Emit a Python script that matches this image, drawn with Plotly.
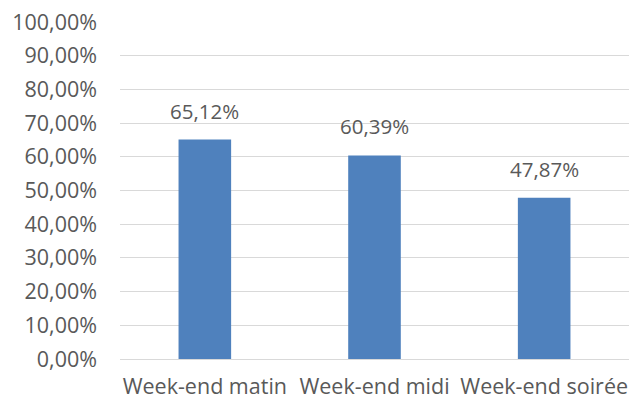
import plotly.graph_objects as go

categories = ["Week-end matin", "Week-end midi", "Week-end soirée"]
values = [0.6512, 0.6039, 0.4787]

FONT = "Open Sans"
TXT = "#595959"

fig = go.Figure()
fig.add_trace(go.Bar(
    x=categories, y=values,
    marker=dict(color="#4F81BD", line=dict(width=0)),
    width=0.31,
    hoverinfo="skip",
))

for c, v in zip(categories, values):
    fig.add_annotation(
        x=c, y=v, xref="x", yref="y",
        text=f"{v*100:.2f}%".replace(".", ","),
        showarrow=False, yanchor="bottom", yshift=13,
        font=dict(family=FONT, size=20.5, color=TXT),
    )

fig.update_layout(
    width=641, height=403,
    margin=dict(l=120, r=12, t=22, b=44, autoexpand=False),
    paper_bgcolor="white", plot_bgcolor="white",
    separators=", ",
    showlegend=False,
    font=dict(family=FONT, size=20, color=TXT),
    xaxis=dict(
        showgrid=False, showline=False, zeroline=False, automargin=False,
        ticks="", ticklabelstandoff=12,
        tickfont=dict(family=FONT, size=21.5, color=TXT),
    ),
    yaxis=dict(
        range=[0, 1], dtick=0.1, tick0=0, automargin=False,
        tickformat=".2%",
        showgrid=True, gridcolor="#D9D9D9", gridwidth=1,
        zeroline=True, zerolinecolor="#D9D9D9", zerolinewidth=1,
        showline=False, ticks="", ticklabelstandoff=22,
        tickfont=dict(family=FONT, size=21.5, color=TXT),
    ),
)

fig.write_html("out.html")
